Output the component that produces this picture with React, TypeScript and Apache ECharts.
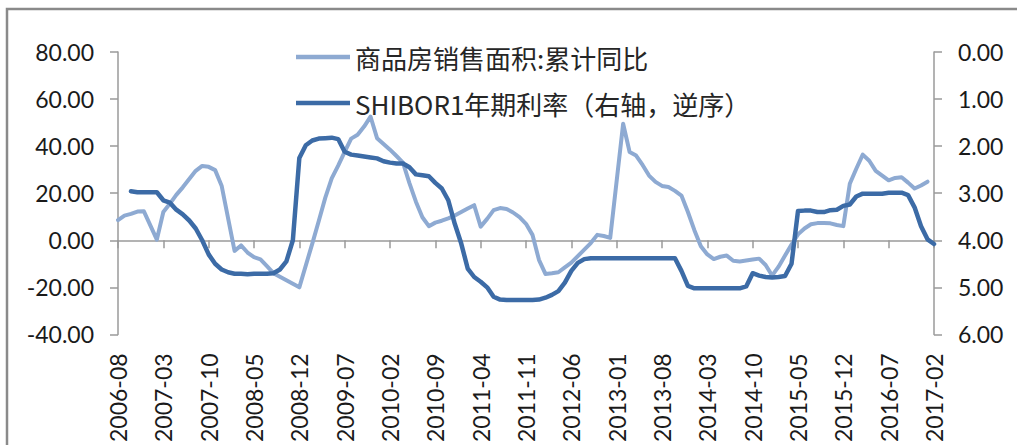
import React, { useEffect, useRef } from "react";
import * as echarts from "echarts";

const START_YEAR = 2006;
const START_MONTH = 8;
const MONTH_COUNT = 127;

const categories: string[] = [];
for (let k = 0; k < MONTH_COUNT; k++) {
  const m = START_MONTH - 1 + k;
  const y = START_YEAR + Math.floor(m / 12);
  const mm = (m % 12) + 1;
  categories.push(`${y}-${mm < 10 ? "0" + mm : mm}`);
}

const salesName = "商品房销售面积:累计同比";
const shiborName = "SHIBOR1年期利率（右轴，逆序）";

// 商品房销售面积:累计同比 (%), left axis
const salesYoY: (number | null)[] = [
  8.6, 10.5, 11.2, 12.2, 12.3, null, 0.3, 12, 15.5, 19.3,
  22.5, 26, 29.5, 31.6, 31.2, 29.8, 23.2, null, -4.5, -2.2,
  -5.2, -7.2, -8.1, -11, -14, -15.5, -17, -18.5, -20, null,
  -1.4, 8.2, 18, 26.3, 31.7, 37.6, 43.2, 44.8, 48.3, 52.5,
  43.4, null, 38.5, 35.8, 33, 24.3, 16.4, 9.8, 6, 7.5,
  8.3, 9.3, 10.5, 12, 13.5, 14.9, 5.8, 9.1, 12.8, 13.7,
  13.3, 11.8, 9.8, 7, 2.3, -8.3, -14.3, -14, -13.6, -11.5,
  -9.5, -6.7, -4, -1.2, 2.3, 1.8, 1, null, 49.5, 37.5,
  36, 32, 27.5, 24.8, 23.1, 22.6, 21, 19, 12, 4.3,
  -2.5, -6, -8, -7, -6.5, -8.7, -9, -8.6, -8.2, -7.8,
  -10.5, -15, -11.2, -6.5, -1.8, 2.5, 5, 6.8, 7.3, 7.3,
  7.2, 6.5, 6, 24, 30.4, 36.4, 33.8, 29.5, 27.5, 25.5,
  26.5, 26.8, 24.5, 22, 23.3, 24.9, null,
];

// SHIBOR 1Y (%), right axis, inverted
const shibor1Y: (number | null)[] = [
  null, null, 2.96, 2.98, 2.98, 2.98, 2.98, 3.15, 3.2, 3.35,
  3.45, 3.58, 3.75, 4.0, 4.3, 4.5, 4.62, 4.68, 4.71, 4.71,
  4.72, 4.71, 4.71, 4.71, 4.7, 4.62, 4.45, 4.0, 2.25, 1.98,
  1.88, 1.84, 1.83, 1.82, 1.85, 2.12, 2.18, 2.2, 2.22, 2.24,
  2.26, 2.32, 2.35, 2.37, 2.37, 2.45, 2.6, 2.62, 2.64, 2.78,
  2.9, 3.15, 3.65, 4.07, 4.6, 4.78, 4.88, 5.0, 5.2, 5.26,
  5.27, 5.27, 5.27, 5.27, 5.27, 5.26, 5.22, 5.16, 5.08, 4.9,
  4.65, 4.48, 4.4, 4.38, 4.38, 4.38, 4.38, 4.38, 4.38, 4.38,
  4.38, 4.38, 4.38, 4.38, 4.38, 4.38, 4.38, 4.65, 4.97, 5.02,
  5.02, 5.02, 5.02, 5.02, 5.02, 5.02, 5.02, 4.98, 4.7, 4.75,
  4.78, 4.79, 4.78, 4.76, 4.5, 3.38, 3.37, 3.37, 3.4, 3.4,
  3.36, 3.35, 3.27, 3.24, 3.07, 3.01, 3.01, 3.01, 3.01, 2.99,
  2.99, 2.99, 3.04, 3.3, 3.7, 3.98, 4.08,
];

const LIGHT = "#8eaad2";
const DARK = "#3c6ba6";
const AXIS = "#9a9a9a";
const FONT = "Lato, 'Noto Sans CJK SC', sans-serif";
const LEGEND_FONT = "'Noto Sans CJK SC', sans-serif";

export default function App() {
  const ref = useRef<HTMLDivElement>(null);

  useEffect(() => {
    if (!ref.current) return;
    const chart = echarts.init(ref.current, undefined, { renderer: "svg" });
    const option: any = {
      animation: false,
      backgroundColor: "#ffffff",
      graphic: [
        {
          type: "rect",
          silent: true,
          z: -10,
          shape: { x: 7, y: 9, width: 1100, height: 500 },
          style: { fill: "none", stroke: "#8a8a8a", lineWidth: 2.5 },
        },
      ],
      legend: {
        orient: "vertical",
        left: 296,
        top: 40,
        padding: 0,
        icon: "rect",
        itemWidth: 54,
        itemHeight: 4.5,
        itemGap: 12,
        selectedMode: false,
        textStyle: { fontSize: 26, fontFamily: LEGEND_FONT, color: "#262626", lineHeight: 34 },
        data: [
          { name: salesName, itemStyle: { color: LIGHT } },
          { name: shiborName, itemStyle: { color: DARK } },
        ],
      },
      grid: { left: 118, right: 83, top: 52, bottom: 106 },
      xAxis: [
        {
          type: "category",
          data: categories,
          boundaryGap: false,
          axisLine: { show: true, onZero: true, onZeroAxisIndex: 0, lineStyle: { color: AXIS, width: 1.5 } },
          axisTick: { show: true, interval: 6, length: 8, lineStyle: { color: AXIS, width: 1.5 } },
          axisLabel: { show: false },
          splitLine: { show: false },
        },
        {
          type: "category",
          data: categories,
          boundaryGap: false,
          position: "bottom",
          axisLine: { show: false, onZero: false },
          axisTick: { show: false },
          axisLabel: {
            show: true,
            interval: 6,
            rotate: 90,
            margin: 19,
            fontSize: 23,
            fontFamily: FONT,
            color: "#1a1a1a",
          },
          splitLine: { show: false },
        },
      ],
      yAxis: [
        {
          type: "value",
          min: -40,
          max: 80,
          interval: 20,
          position: "left",
          axisLine: { show: true, lineStyle: { color: AXIS, width: 1.5 } },
          axisTick: { show: true, length: 8, lineStyle: { color: AXIS, width: 1.5 } },
          splitLine: { show: false },
          axisLabel: {
            margin: 24,
            fontSize: 23,
            fontFamily: FONT,
            color: "#1a1a1a",
            formatter: (v: number) => v.toFixed(2),
          },
        },
        {
          type: "value",
          min: 0,
          max: 6,
          interval: 1,
          inverse: true,
          position: "right",
          axisLine: { show: true, onZero: false, lineStyle: { color: AXIS, width: 1.5 } },
          axisTick: { show: true, length: 8, lineStyle: { color: AXIS, width: 1.5 } },
          splitLine: { show: false },
          axisLabel: {
            margin: 24,
            fontSize: 23,
            fontFamily: FONT,
            color: "#1a1a1a",
            formatter: (v: number) => v.toFixed(2),
          },
        },
      ],
      series: [
        {
          name: salesName,
          type: "line",
          xAxisIndex: 0,
          yAxisIndex: 0,
          data: salesYoY,
          connectNulls: true,
          showSymbol: false,
          symbol: "none",
          lineStyle: { color: LIGHT, width: 4, cap: "round", join: "round" },
          itemStyle: { color: LIGHT },
        },
        {
          name: shiborName,
          type: "line",
          xAxisIndex: 0,
          yAxisIndex: 1,
          data: shibor1Y,
          connectNulls: false,
          showSymbol: false,
          symbol: "none",
          lineStyle: { color: DARK, width: 4.5, cap: "round", join: "round" },
          itemStyle: { color: DARK },
        },
      ],
    };
    chart.setOption(option);
    return () => chart.dispose();
  }, []);

  return (
    <div
      ref={ref}
      style={{ position: "fixed", left: 0, top: 0, width: 1017, height: 445, background: "#fff" }}
    />
  );
}
